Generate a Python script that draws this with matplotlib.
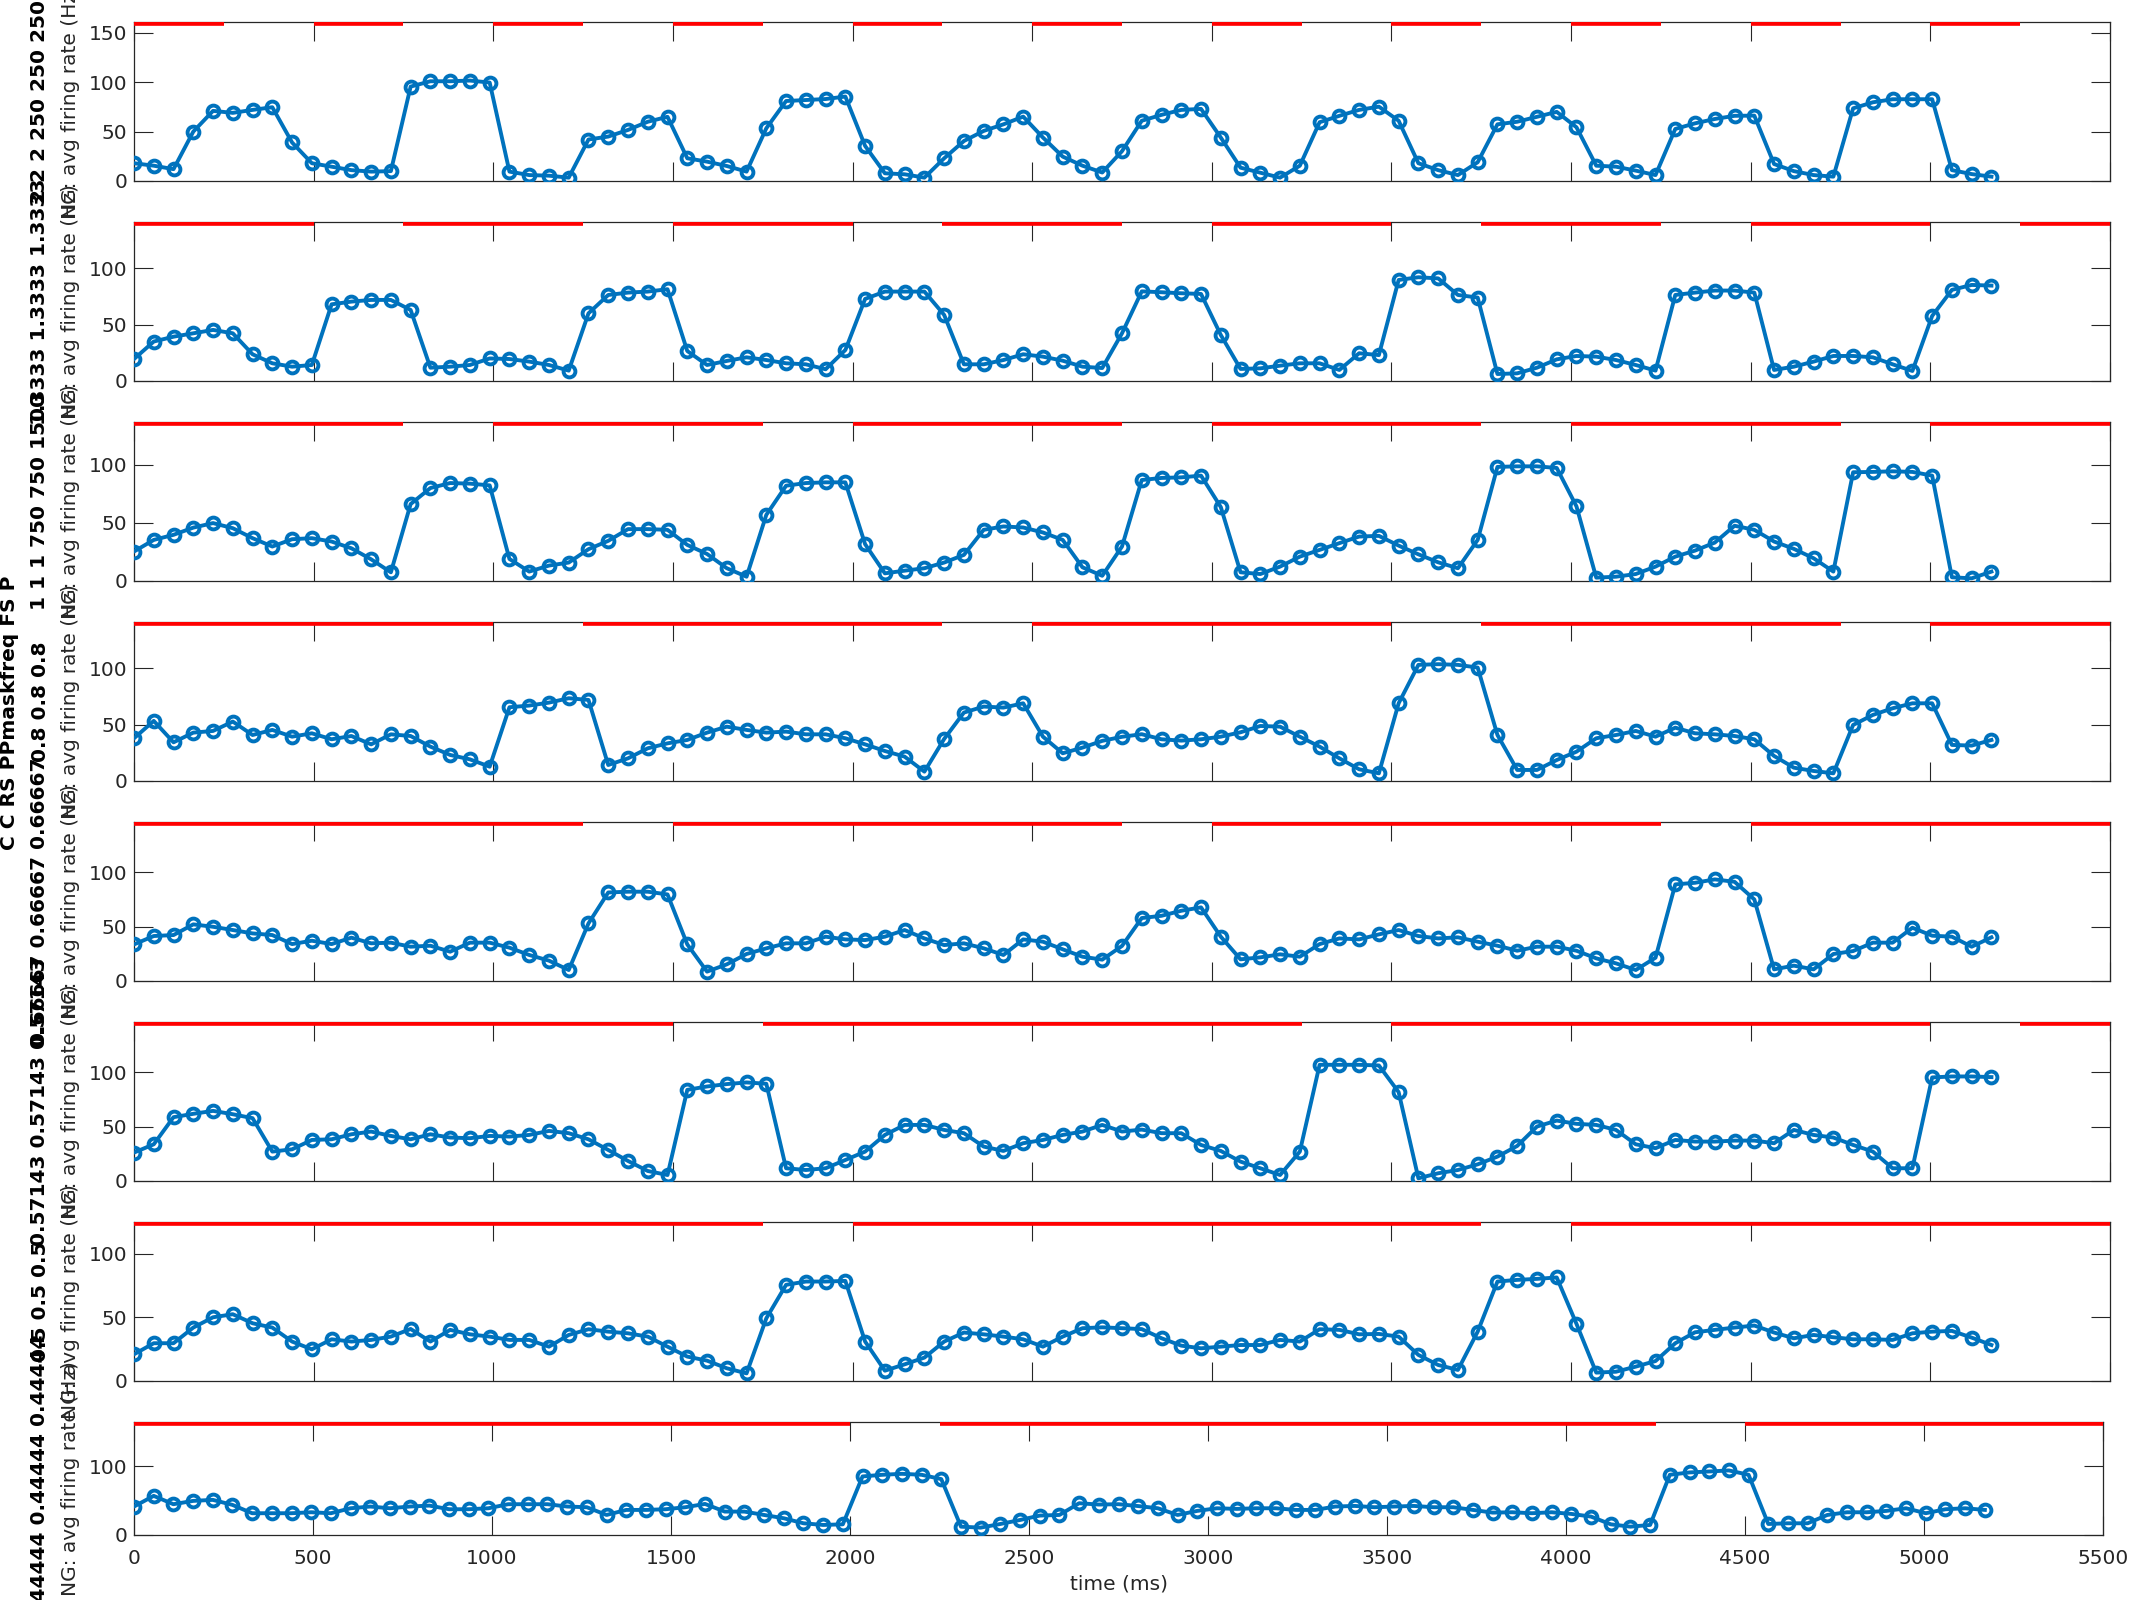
import numpy as np
import matplotlib
matplotlib.use("Agg")
import matplotlib.pyplot as plt

# Firing-rate traces, one bin every 55 ms
bin_ms = 55

rate_1 = [18, 15.5, 12, 50, 71, 69, 72, 74.7, 39, 18,
          14.5, 11, 9.5, 10, 95.6, 101, 101, 101.7, 99.7, 9.5,
          6, 5.4, 3.4, 42, 45, 51.7, 60, 65, 23, 19.6,
          15.2, 9.5, 53.4, 81, 82, 83, 85.5, 35.5, 7.8, 6.8,
          3.4, 23, 40.5, 50.7, 57.4, 65.2, 44, 24.7, 15.5, 8.6,
          30.2, 61, 67, 72, 73, 44, 13.5, 8.4, 3.4, 15.5,
          59.5, 66, 72, 75.3, 61, 18, 11, 6, 19, 57.4,
          60, 65, 70, 54.4, 15.5, 14.5, 10.5, 6, 52.7, 58.4,
          62.8, 66, 66.2, 17.2, 10, 6, 4.4, 73.6, 79.7, 82.8,
          82.8, 82.8, 11, 7, 4.4]
rate_2 = [19.5, 35, 39.3, 42.3, 45.3, 42.3, 23.7, 15.7, 12.7, 14.2,
          68, 70.4, 71.9, 71.9, 63, 11.8, 12.7, 14.2, 20, 19.5,
          17.2, 14.2, 9.2, 60, 76.3, 78.4, 79.3, 81.4, 26.6, 14.2,
          17.8, 21, 18.6, 15.7, 14.8, 10.4, 27.5, 72.8, 79.3, 79.3,
          79.3, 58.6, 14.8, 14.8, 18.6, 23.7, 21.6, 18, 12.7, 11.5,
          42.3, 79.5, 78.7, 77.8, 77.2, 40.8, 10.7, 11.2, 13.6, 15.7,
          15.7, 9.8, 24.6, 23, 89.6, 92, 91, 76.3, 74, 6.2,
          6.8, 11.8, 19.2, 22.2, 21.6, 18.6, 14.2, 9.2, 76.3, 78.4,
          80.2, 80.2, 78.4, 9.8, 12.7, 17.2, 22.2, 22.2, 21, 14.8,
          8.9, 57.7, 80.8, 85.2, 84.6]
rate_3 = [25.4, 35.4, 39.8, 46, 49.9, 45.5, 36.9, 29.7, 36, 36.9,
          34, 28.2, 18.7, 7.5, 66.3, 80.1, 84.4, 83.9, 82.4, 19,
          8.1, 13.3, 15.9, 27.4, 34.6, 44.7, 44.7, 44.1, 31.1, 23.3,
          11, 3.7, 57, 82.1, 84.4, 85, 85, 31.7, 6.6, 8.9,
          11, 15.9, 22.5, 44.1, 47, 46.1, 41.8, 35.4, 11.8, 4.5,
          29.7, 87, 88.8, 89.3, 90.8, 63.7, 7.5, 6, 12.4, 21,
          26.8, 32.6, 38.3, 38.9, 30.5, 23, 16.1, 11, 35.4, 98.3,
          98.8, 98.8, 97.4, 64.3, 2.9, 3.7, 6, 12.4, 21, 26.2,
          33.1, 47.6, 44.1, 34, 27.7, 19.6, 8.1, 93.7, 94, 94.5,
          94, 90.8, 3.2, 2.3, 8.1]
rate_4 = [37.9, 53.3, 34.3, 42.9, 44.4, 52.7, 40.8, 45.3, 39.3, 42.3,
          37, 39.9, 32.5, 41.4, 39.9, 30.5, 23.1, 19.2, 12.7, 65.4,
          66.9, 69.5, 73.4, 71.9, 14.2, 20.1, 29, 33.4, 36.4, 42.9,
          48.2, 45.3, 42.9, 43.8, 41.4, 41.4, 37.9, 32.5, 26.6, 21.6,
          8.3, 37.3, 60.7, 66, 65.1, 68.9, 39.3, 24.6, 29.6, 35.6,
          39.2, 41.5, 37, 35.8, 37, 39.3, 43.2, 48.8, 48.2, 39.3,
          30.5, 20.1, 10.4, 6.8, 68.9, 103, 103.6, 103, 100.6, 40.8,
          9.8, 9.8, 18.6, 26, 37.9, 40.8, 44.4, 39.3, 47.3, 42.3,
          41.4, 39.9, 37, 22.2, 11.8, 8.9, 6.8, 49.7, 58.6, 64.5,
          68.9, 68.9, 32, 31.4, 36.4]
rate_5 = [33.6, 41.3, 42.2, 52, 49.8, 46.8, 43.7, 42.2, 33.9, 37,
          33.9, 39.8, 34.6, 35.2, 31.5, 32.4, 26.9, 35.2, 35.2, 30.6,
          23.9, 18.7, 10.1, 52.9, 81.3, 82, 82, 79.5, 33.6, 8.6,
          15.3, 24.8, 30, 34.6, 34.6, 40.7, 38.2, 37.6, 40.7, 46.8,
          39.1, 33, 34.6, 30, 23.9, 38.2, 36.1, 29.1, 22.3, 19.6,
          32.2, 57.8, 59.9, 64.5, 67.6, 40.7, 19.9, 21.7, 24.5, 22.3,
          33.9, 39.1, 38.2, 42.8, 46.8, 41.3, 39.1, 40.1, 36.1, 32.4,
          27.8, 31.5, 31.5, 27.8, 20.8, 16.2, 10.1, 21.4, 88.7, 90.2,
          93.3, 91.1, 74.9, 10.7, 14.1, 10.7, 24.8, 27.5, 35.2, 35.2,
          48.9, 41.6, 40.7, 31.5, 40.1]
rate_6 = [26.1, 33.7, 58.6, 61.7, 64.4, 61.3, 57.7, 27, 29.1, 37.7,
          38.3, 42.9, 45.4, 41.4, 38.3, 42.9, 39.9, 39.3, 41.4, 40.8,
          42.3, 46, 43.9, 38.3, 28.5, 18.4, 9.2, 5.5, 83.7, 86.8,
          89, 90.5, 89.3, 11.7, 10.1, 11.7, 19.3, 27, 42.3, 51.5,
          51.5, 46.9, 43.9, 31.6, 27.6, 34.7, 37.7, 42.3, 45.4, 51.5,
          45.4, 47.2, 43.9, 43.9, 33.1, 27.6, 17.8, 11.7, 5.5, 27,
          106.7, 106.7, 106.7, 106.1, 81.6, 2.5, 7.1, 10.1, 15.3, 22.4,
          32.2, 50, 55.5, 52.5, 51.5, 46.9, 33.7, 30.1, 37.7, 36.2,
          36.2, 37.1, 37.1, 34.7, 46.9, 42.3, 39.9, 33.1, 27, 11.7,
          11.7, 95.1, 96, 96, 95.4]
rate_7 = [21, 29.7, 29.7, 42, 50.1, 52.5, 45.4, 42, 31, 24.9,
          32.8, 31, 32.3, 34.9, 40.9, 31, 40.2, 36.7, 34.9, 32.3,
          32.3, 27, 36.2, 40.7, 38.8, 37.5, 34.9, 27, 19.2, 16,
          10, 6, 49.3, 75.6, 78.2, 78.2, 78.7, 31, 8.1, 13.1,
          18.4, 31, 38.1, 36.7, 34.9, 32.8, 27, 34.9, 41.5, 42.2,
          41.5, 40.8, 33.6, 27.8, 25.7, 27, 28.3, 28.3, 32.3, 31,
          40.7, 40.2, 36.7, 37, 34.9, 20.5, 12.6, 8.7, 38.8, 78.2,
          79.5, 80.3, 81.4, 44.9, 6.6, 7.3, 11.3, 15.7, 29.7, 38.3,
          40.2, 42, 43.6, 38.1, 33.6, 36.2, 34.4, 32.8, 32.8, 32.3,
          37.5, 38.8, 39.4, 34.1, 28.3]
rate_8 = [41.3, 56.8, 44.7, 49.5, 51, 43.7, 31.6, 31.6, 31.6, 33,
          31.6, 38.8, 41.3, 38.8, 41.3, 42.7, 37.4, 37.4, 38.8, 44.7,
          44.7, 44.7, 41.3, 40.3, 29.1, 36.4, 36.4, 37.4, 40.3, 45.1,
          34, 34, 29.1, 24.3, 17, 14.6, 15.5, 85, 87.4, 88.8,
          87.4, 81.1, 12.1, 10.7, 16, 21.8, 28.2, 29.1, 46.1, 44.2,
          44.7, 42, 38.8, 29.1, 35, 38.8, 37.9, 38.8, 38.8, 36.4,
          36.4, 41.3, 42.2, 40.3, 41.3, 42.2, 40.3, 40.3, 36.4, 32.5,
          33, 31.6, 33, 30.6, 26.7, 15.5, 12.1, 14.6, 87.4, 90.8,
          92.2, 93.7, 87.4, 16, 17, 17, 29.1, 33, 33, 35,
          38.8, 31.6, 37.4, 38.8, 36.4]
rates = [rate_1, rate_2, rate_3, rate_4, rate_5, rate_6, rate_7, rate_8]

# mask timing per panel (period of the mask, off gap)
mask_period_ms = [500, 750, 1000, 1250, 1500, 1750, 2000, 2250]
mask_off_ms = 250

y_top = [161, 141, 137, 141, 146, 146, 125, 164]
y_ticks = [[0, 50, 100, 150], [0, 50, 100], [0, 50, 100], [0, 50, 100],
           [0, 50, 100], [0, 50, 100], [0, 50, 100], [0, 100]]

param_text = ["2 2 2 250 250 250", "1.3333 1.3333 1.3333", "1 1 1 750 750 1500",
              "0.8 0.8 0.8", "0.66667 0.66667 0.66667", "0.57143 0.57143 0.57143",
              "0.5 0.5 0.5", "0.44444 0.44444 0.44444"]
names_text = "C C RS PPmaskfreq FS P"
ylab_text = "NG: avg firing rate (Hz)"

W, H = 2133, 1600
ink = "#262626"
blue = "#0072BD"
fs = 14.5

fig = plt.figure(figsize=(W / 100, H / 100), dpi=100)


def rect(l, t, r, b):
    return [l / W, 1 - b / H, (r - l) / W, (b - t) / H]


axes = []
for k in range(8):
    top = 22 + 200 * k
    bottom = top + 159 if k < 7 else 1535
    right = 2110 if k < 7 else 2103
    ax = fig.add_axes(rect(134, top, right, bottom))
    axes.append(ax)

    t = np.arange(len(rates[k])) * bin_ms
    ax.plot(t, rates[k], color=blue, lw=2.8, marker="o", ms=8.5,
            mfc="none", mew=2.8, zorder=4)

    # red mask bars along the top edge
    per = mask_period_ms[k]
    for start in np.arange(0, 5500, per):
        ax.plot([start, start + per - mask_off_ms], [1, 1],
                transform=ax.get_xaxis_transform(), color="red", lw=5.5,
                solid_capstyle="butt", zorder=5)

    ax.set_xlim(0, 5500)
    ax.set_ylim(0, y_top[k])
    ax.set_xticks(np.arange(0, 5501, 500))
    ax.set_yticks(y_ticks[k])
    ax.tick_params(direction="in", length=14, width=0.8, top=True, right=True,
                   labelsize=fs, colors=ink, labelbottom=(k == 7))
    ax.tick_params(axis="y", pad=5)
    ax.tick_params(axis="x", pad=10)
    for s in ax.spines.values():
        s.set_color(ink)
        s.set_linewidth(0.9)

    yc = (top + bottom) / 2
    fig.text(70 / W, 1 - yc / H, ylab_text, rotation=90, ha="center",
             va="center", fontsize=fs, color=ink)
    fig.text(40 / W, 1 - yc / H, param_text[k], rotation=90, ha="center",
             va="center", fontsize=fs, fontweight="bold", color="black")

fig.text(10 / W, 1 - 713 / H, names_text, rotation=90, ha="center",
         va="center", fontsize=fs, fontweight="bold", color="black")

axes[-1].set_xlabel("time (ms)", fontsize=fs, color=ink, labelpad=5)

fig.savefig("out.png", dpi=100)
